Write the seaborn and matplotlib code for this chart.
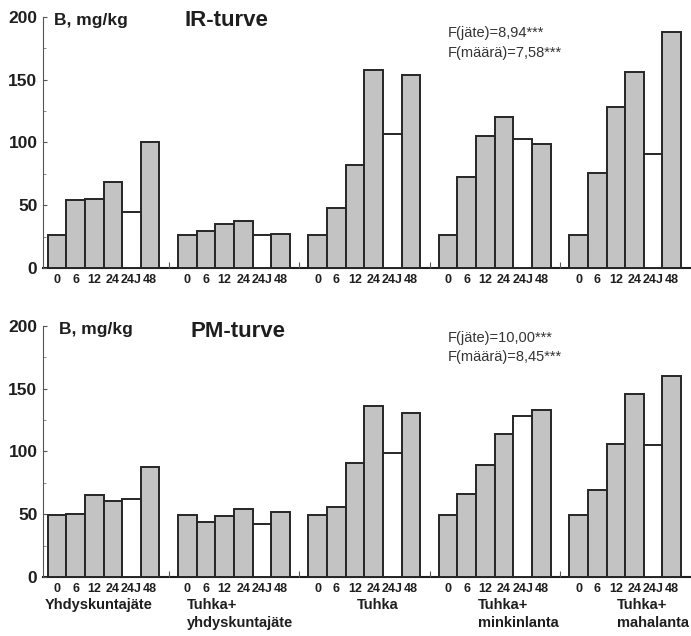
import pandas as pd
import matplotlib.pyplot as plt
from matplotlib.ticker import FixedLocator, MultipleLocator
import seaborn as sns

# Doses (t/ha) and waste groups
doses = ["0", "6", "12", "24", "24J", "48"]
groups = ["Yhdyskuntajäte", "Tuhka+\nyhdyskuntajäte", "Tuhka",
          "Tuhka+\nminkinlanta", "Tuhka+\nmahalanta"]

# IR-turve, B mg/kg
ir_yhdyskuntajate = [26.6, 54, 55, 68.4, 45, 100.5]
ir_tuhka_yhd = [26.6, 29.7, 35, 37.4, 26, 26.8]
ir_tuhka = [26.6, 48, 82, 157.6, 106.8, 154]
ir_tuhka_mink = [26.3, 72.6, 105, 120, 102.4, 99]
ir_tuhka_maha = [26.3, 75.5, 128, 156, 90.8, 188.4]

# PM-turve, B mg/kg
pm_yhdyskuntajate = [49.2, 50.3, 65.7, 60.4, 62.5, 88]
pm_tuhka_yhd = [49.2, 44, 48.4, 54.3, 42.3, 52.1]
pm_tuhka = [49.2, 55.6, 90.7, 136.4, 98.4, 130.9]
pm_tuhka_mink = [49.2, 66.2, 89.4, 114, 128, 132.7]
pm_tuhka_maha = [49, 69.4, 106, 146, 104.8, 159.8]

ir_series = [ir_yhdyskuntajate, ir_tuhka_yhd, ir_tuhka, ir_tuhka_mink, ir_tuhka_maha]
pm_series = [pm_yhdyskuntajate, pm_tuhka_yhd, pm_tuhka, pm_tuhka_mink, pm_tuhka_maha]


def make_df(series):
    rows = []
    for g, vals in enumerate(series):
        for i, (d, v) in enumerate(zip(doses, vals)):
            rows.append({"pos": g * 7 + i, "dose": d, "B": v,
                         "kind": "J" if d == "24J" else "n"})
    return pd.DataFrame(rows)


sns.set_theme(style="ticks")
plt.rcParams["font.family"] = ["Liberation Sans", "DejaVu Sans"]
ink = "#1e1e1e"

fig = plt.figure(figsize=(6.91, 6.36), dpi=100)
ax_top = fig.add_axes([0.0622, 0.5786, 0.9363, 0.3947])
ax_bot = fig.add_axes([0.0622, 0.0928, 0.9363, 0.3947])

for ax, series in [(ax_top, ir_series), (ax_bot, pm_series)]:
    df = make_df(series)
    sns.barplot(data=df, x="pos", y="B", hue="kind", native_scale=True,
                dodge=False, width=1.0, palette={"n": "#c3c3c3", "J": "white"},
                legend=False, ax=ax)
    # seaborn lightens edges of white bars, so set them here
    for p in ax.patches:
        p.set_edgecolor("#262626")
        p.set_linewidth(1.4)
        p.set_clip_on(False)
    ax.set_xlim(-0.75, 33.98)
    ax.set_ylim(0, 200)
    ax.set_xlabel("")
    ax.set_ylabel("")
    ax.xaxis.set_major_locator(FixedLocator(df["pos"].tolist()))
    ax.set_xticklabels(df["dose"].tolist(), fontsize=9, fontweight="bold", color=ink)
    ax.xaxis.set_minor_locator(FixedLocator([6, 13, 20, 27]))
    ax.tick_params(axis="x", which="major", direction="in", length=3, width=0.8,
                   pad=4, color="#555555")
    ax.tick_params(axis="x", which="minor", direction="in", length=4, width=0.8,
                   color="#555555")
    ax.set_yticks([0, 50, 100, 150, 200])
    ax.set_yticklabels(["0", "50", "100", "150", "200"], fontsize=12.5,
                       fontweight="bold", color=ink)
    ax.yaxis.set_minor_locator(MultipleLocator(25))
    ax.tick_params(axis="y", which="major", direction="in", length=3, width=0.8,
                   pad=4, color="#555555")
    ax.tick_params(axis="y", which="minor", direction="in", length=2, width=0.6,
                   color="#777777")
    for s in ["top", "right"]:
        ax.spines[s].set_visible(False)
    ax.spines["left"].set_linewidth(0.8)
    ax.spines["left"].set_color("#555555")
    ax.spines["bottom"].set_linewidth(1.5)
    ax.spines["bottom"].set_color(ink)
    ax.spines["bottom"].set_zorder(0.5)

W, H = 691, 636


def ftext(px, py, s, **kw):
    kw.setdefault("color", ink)
    fig.text(px / W, 1 - py / H, s, va="center", ha="left", **kw)


ftext(54, 20, "B, mg/kg", fontsize=12.5, fontweight="bold")
ftext(184, 21, "IR-turve", fontsize=16, fontweight="bold")
ftext(448, 33, "F(jäte)=8,94***", fontsize=10.5, color="#333333")
ftext(448, 53, "F(määrä)=7,58***", fontsize=10.5, color="#333333")

ftext(59, 329, "B, mg/kg", fontsize=12.5, fontweight="bold")
ftext(190, 331, "PM-turve", fontsize=16, fontweight="bold")
ftext(448, 338, "F(jäte)=10,00***", fontsize=10.5, color="#333333")
ftext(448, 357, "F(määrä)=8,45***", fontsize=10.5, color="#333333")

# group names under the lower panel
label_x = [45, 187, 357, 478, 617]
for x, name in zip(label_x, groups):
    fig.text(x / W, 1 - 598 / H, name, ha="left", va="top", fontsize=10.5,
             fontweight="bold", color=ink, linespacing=1.35)

fig.savefig("out.png", dpi=100)
